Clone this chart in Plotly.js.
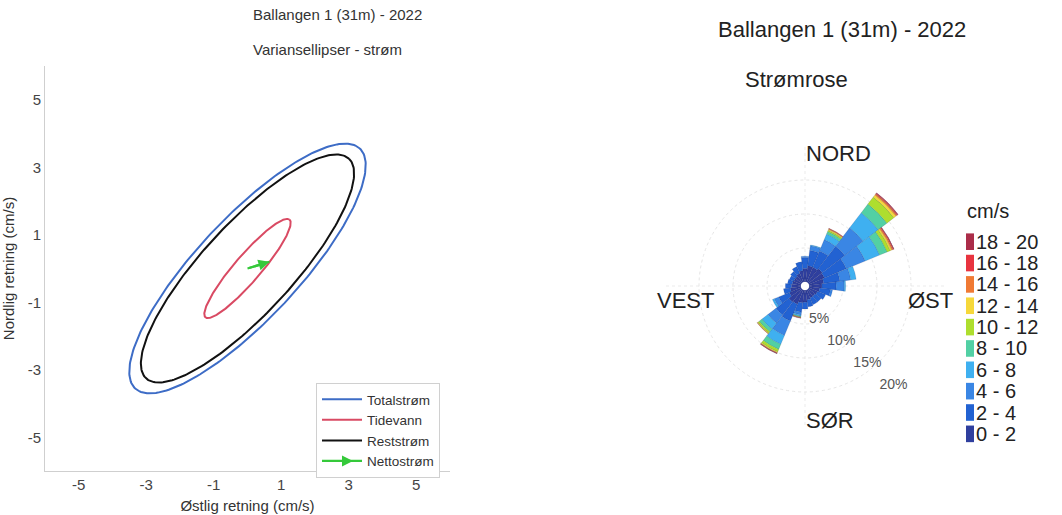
<!DOCTYPE html>
<html>
<head>
<meta charset="utf-8">
<script src="https://cdn.plot.ly/plotly-3.0.1.min.js"></script>
<style>
  html, body { margin: 0; padding: 0; background: #fff; }
  #chart { width: 1062px; height: 515px; }
</style>
</head>
<body>
<div id="chart"></div>
<script>
// ---------- Variance ellipses (cm/s) ----------
const ellipseNames  = ['Totalstrøm', 'Tidevann', 'Reststrøm'];
const ellipseMajor  = [4.87, 1.91, 4.43];   // semi-major axis
const ellipseMinor  = [1.50, 0.39, 1.33];   // semi-minor axis
const ellipseAngle  = [46.9, 49.3, 47.3];   // orientation, degrees from east
const ellipseColors = ['#3d6cc6', '#d94a63', '#111111'];

// Net current vector (cm/s)
const netName  = 'Nettostrøm';
const netEast  = [0, 0.65];
const netNorth = [0, 0.20];
const netColor = '#35c93a';

const axisTicks  = [-5, -3, -1, 1, 3, 5];
const axisLabels = ['-5', '-3', '-1', '1', '3', '5'];

// ---------- Current rose ----------
const directions = [0, 15, 30, 45, 60, 75, 90, 105, 120, 135, 150, 165,
                    180, 195, 210, 225, 240, 255, 270, 285, 300, 315, 330, 345];
const speedClasses = ['0 - 2', '2 - 4', '4 - 6', '6 - 8', '8 - 10',
                      '10 - 12', '12 - 14', '14 - 16', '16 - 18', '18 - 20'];
const speedColors  = ['#2f3f9e', '#2262d2', '#3a86e4', '#3fb0f0', '#52d0a4',
                      '#aede2e', '#f6d83a', '#f07a34', '#e8343f', '#ab2d49'];
// percentage of time per direction sector and speed class
const pct0_2   = [2.0, 2.4, 2.4, 2.6, 2.5, 2.2, 1.9, 1.6, 1.4, 1.3, 1.3, 1.5, 1.8, 1.9, 2.3, 2.4, 1.9, 1.6, 1.4, 1.3, 1.2, 1.2, 1.4, 1.7];
const pct2_4   = [1.6, 2.3, 2.6, 4.2, 3.5, 2.4, 2.1, 1.6, 1.3, 1.1, 1.1, 1.0, 1.0, 1.4, 2.7, 2.4, 1.7, 1.0, 0.9, 0.7, 0.7, 0.9, 1.1, 1.3];
const pct4_6   = [0.2, 0.7, 1.8, 3.4, 3.0, 1.6, 1.2, 0.3, 0, 0, 0, 0, 0, 0.4, 2.3, 1.5, 0.7, 0, 0, 0, 0, 0, 0, 0];
const pct6_8   = [0, 0.1, 0.9, 2.8, 2.3, 0.8, 0.2, 0, 0, 0, 0, 0, 0, 0.2, 1.4, 1.1, 0.3, 0, 0, 0, 0, 0, 0, 0];
const pct8_10  = [0, 0, 0.4, 1.6, 1.2, 0, 0, 0, 0, 0, 0, 0, 0, 0.1, 0.8, 0.5, 0, 0, 0, 0, 0, 0, 0, 0];
const pct10_12 = [0, 0, 0.2, 1.3, 0.5, 0, 0, 0, 0, 0, 0, 0, 0, 0.05, 0.4, 0.25, 0, 0, 0, 0, 0, 0, 0, 0];
const pct12_14 = [0, 0, 0.15, 0.4, 0.25, 0, 0, 0, 0, 0, 0, 0, 0, 0.05, 0.15, 0.1, 0, 0, 0, 0, 0, 0, 0, 0];
const pct14_16 = [0, 0, 0.1, 0.2, 0.2, 0, 0, 0, 0, 0, 0, 0, 0, 0.05, 0.07, 0.05, 0, 0, 0, 0, 0, 0, 0, 0];
const pct16_18 = [0, 0, 0.05, 0.1, 0.1, 0, 0, 0, 0, 0, 0, 0, 0, 0.05, 0.05, 0, 0, 0, 0, 0, 0, 0, 0, 0];
const pct18_20 = [0, 0, 0, 0.1, 0.05, 0, 0, 0, 0, 0, 0, 0, 0, 0, 0.03, 0, 0, 0, 0, 0, 0, 0, 0, 0];
const speedPct = [pct0_2, pct2_4, pct4_6, pct6_8, pct8_10, pct10_12, pct12_14, pct14_16, pct16_18, pct18_20];

const ringVals   = [5, 10, 15, 20];
const ringLabels = ['5%', '10%', '15%', '20%'];

const FONT = 'Liberation Sans, Arial, Helvetica, sans-serif';
const W = 1062, H = 515;
const px = v => v / W;          // pixel -> paper x
const py = v => 1 - v / H;      // pixel -> paper y

// ---------- traces ----------
const traces = [];

// ellipse outlines from their axes and orientation
function ellipse(a, b, deg) {
  const th = deg * Math.PI / 180, xs = [], ys = [];
  for (let i = 0; i <= 240; i++) {
    const t = 2 * Math.PI * i / 240;
    const u = a * Math.cos(t), v = b * Math.sin(t);
    xs.push(u * Math.cos(th) - v * Math.sin(th));
    ys.push(u * Math.sin(th) + v * Math.cos(th));
  }
  return {xs, ys};
}
ellipseNames.forEach((name, i) => {
  const e = ellipse(ellipseMajor[i], ellipseMinor[i], ellipseAngle[i]);
  traces.push({
    type: 'scatter', mode: 'lines', name: name,
    x: e.xs, y: e.ys, xaxis: 'x', yaxis: 'y',
    line: {color: ellipseColors[i], width: 2},
    hoverinfo: 'skip'
  });
});
traces.push({
  type: 'scatter', mode: 'lines', name: netName,
  x: netEast, y: netNorth, xaxis: 'x', yaxis: 'y',
  line: {color: netColor, width: 2.2}, hoverinfo: 'skip'
});

speedClasses.forEach((cls, k) => {
  traces.push({
    type: 'barpolar', subplot: 'polar', name: cls,
    r: speedPct[k], theta: directions, width: 15,
    marker: {color: speedColors[k], line: {color: 'rgba(30,30,70,0.25)', width: 0.5}},
    showlegend: false, hoverinfo: 'skip'
  });
});

// ---------- annotations ----------
const annotations = [
  {text: 'Ballangen 1 (31m) - 2022', x: px(251), y: py(15), font: {size: 15, color: '#333'}},
  {text: 'Variansellipser - strøm',  x: px(251), y: py(50), font: {size: 15, color: '#333'}},
  {text: 'Ballangen 1 (31m) - 2022', x: px(716), y: py(30), xanchor: 'left', font: {size: 22, color: '#222'}},
  {text: 'Strømrose',                x: px(743), y: py(80), xanchor: 'left', font: {size: 22, color: '#222'}},
  {text: 'NORD', x: px(804), y: py(153), xanchor: 'left', font: {size: 22, color: '#222'}},
  {text: 'SØR',  x: px(804), y: py(420), xanchor: 'left', font: {size: 22, color: '#222'}},
  {text: 'VEST', x: px(716), y: py(300), xanchor: 'right', font: {size: 22, color: '#222'}},
  {text: 'ØST',  x: px(906), y: py(300), xanchor: 'left', font: {size: 22, color: '#222'}},
  {text: 'cm/s', x: px(965), y: py(211), xanchor: 'left', font: {size: 20, color: '#222'}},
  // net current arrowhead
  {text: '', x: netEast[1], y: netNorth[1], ax: netEast[0], ay: netNorth[0],
   xref: 'x', yref: 'y', axref: 'x', ayref: 'y', showarrow: true,
   arrowhead: 2, arrowsize: 1, arrowwidth: 2.2, arrowcolor: netColor},
  // arrowhead on the net-current key sample
  {text: '', x: px(353), y: py(461), ax: -12, ay: 0, showarrow: true,
   arrowhead: 2, arrowsize: 1, arrowwidth: 2.2, arrowcolor: netColor}
].map(a => Object.assign({xref: 'paper', yref: 'paper', showarrow: false, yanchor: 'middle'},
                         a, {font: Object.assign({family: FONT}, a.font)}));

// speed-class key, top row is the fastest class
const shapes = [];
for (let i = 0; i < speedClasses.length; i++) {
  const k = speedClasses.length - 1 - i;
  const yc = 241.7 + i * 21.35;
  shapes.push({type: 'rect', xref: 'paper', yref: 'paper',
               x0: px(966), x1: px(974), y0: py(yc + 8.3), y1: py(yc - 8.3),
               fillcolor: speedColors[k], line: {width: 0}});
  annotations.push({text: speedClasses[k], xref: 'paper', yref: 'paper',
                    x: px(975), y: py(yc), xanchor: 'left', yanchor: 'middle',
                    showarrow: false, borderpad: 0,
                    font: {family: FONT, size: 20, color: '#222'}});
}

const axisCommon = {
  range: [-6, 6], tickvals: axisTicks, ticktext: axisLabels,
  showgrid: false, zeroline: false, showline: true, linecolor: '#cfcfcf', linewidth: 1,
  ticks: '', tickfont: {family: FONT, size: 15, color: '#444'}, automargin: false
};

const layout = {
  width: W, height: H,
  margin: {l: 0, r: 0, t: 0, b: 0},
  paper_bgcolor: '#fff', plot_bgcolor: '#fff',
  font: {family: FONT, color: '#333'},
  xaxis: Object.assign({}, axisCommon, {
    domain: [px(45), px(450)], anchor: 'y',
    title: {text: 'Østlig retning (cm/s)', standoff: 8, font: {family: FONT, size: 15, color: '#333'}}
  }),
  yaxis: Object.assign({}, axisCommon, {
    domain: [py(471), py(66)], anchor: 'x',
    title: {text: 'Nordlig retning (cm/s)', font: {family: FONT, size: 15, color: '#333'}}
  }),
  legend: {
    x: px(316), y: py(383), xanchor: 'left', yanchor: 'top',
    bgcolor: '#fff', bordercolor: '#d0d0d0', borderwidth: 1,
    itemwidth: 40,
    font: {family: FONT, size: 13.5, color: '#333'}, tracegroupgap: 0
  },
  polar: {
    domain: {x: [px(665), px(945)], y: [py(426), py(146)]},
    hole: 4 / 140,
    bgcolor: 'rgba(0,0,0,0)',
    bargap: 0,
    radialaxis: {
      range: [0, 20], tickvals: ringVals, ticktext: ringLabels,
      angle: -40, tickangle: -40, showline: false, ticks: '',
      gridcolor: '#e6e6e6', griddash: 'dot', gridwidth: 1,
      tickfont: {family: FONT, size: 14, color: '#555'}
    },
    angularaxis: {
      rotation: 90, direction: 'clockwise',
      tickvals: [0, 90, 180, 270], showticklabels: false, ticks: '',
      showline: false, gridcolor: '#ebebeb', griddash: 'dot'
    }
  },
  annotations: annotations,
  shapes: shapes,
  showlegend: true
};

Plotly.newPlot('chart', traces, layout, {displayModeBar: false, staticPlot: true});
</script>
</body>
</html>
